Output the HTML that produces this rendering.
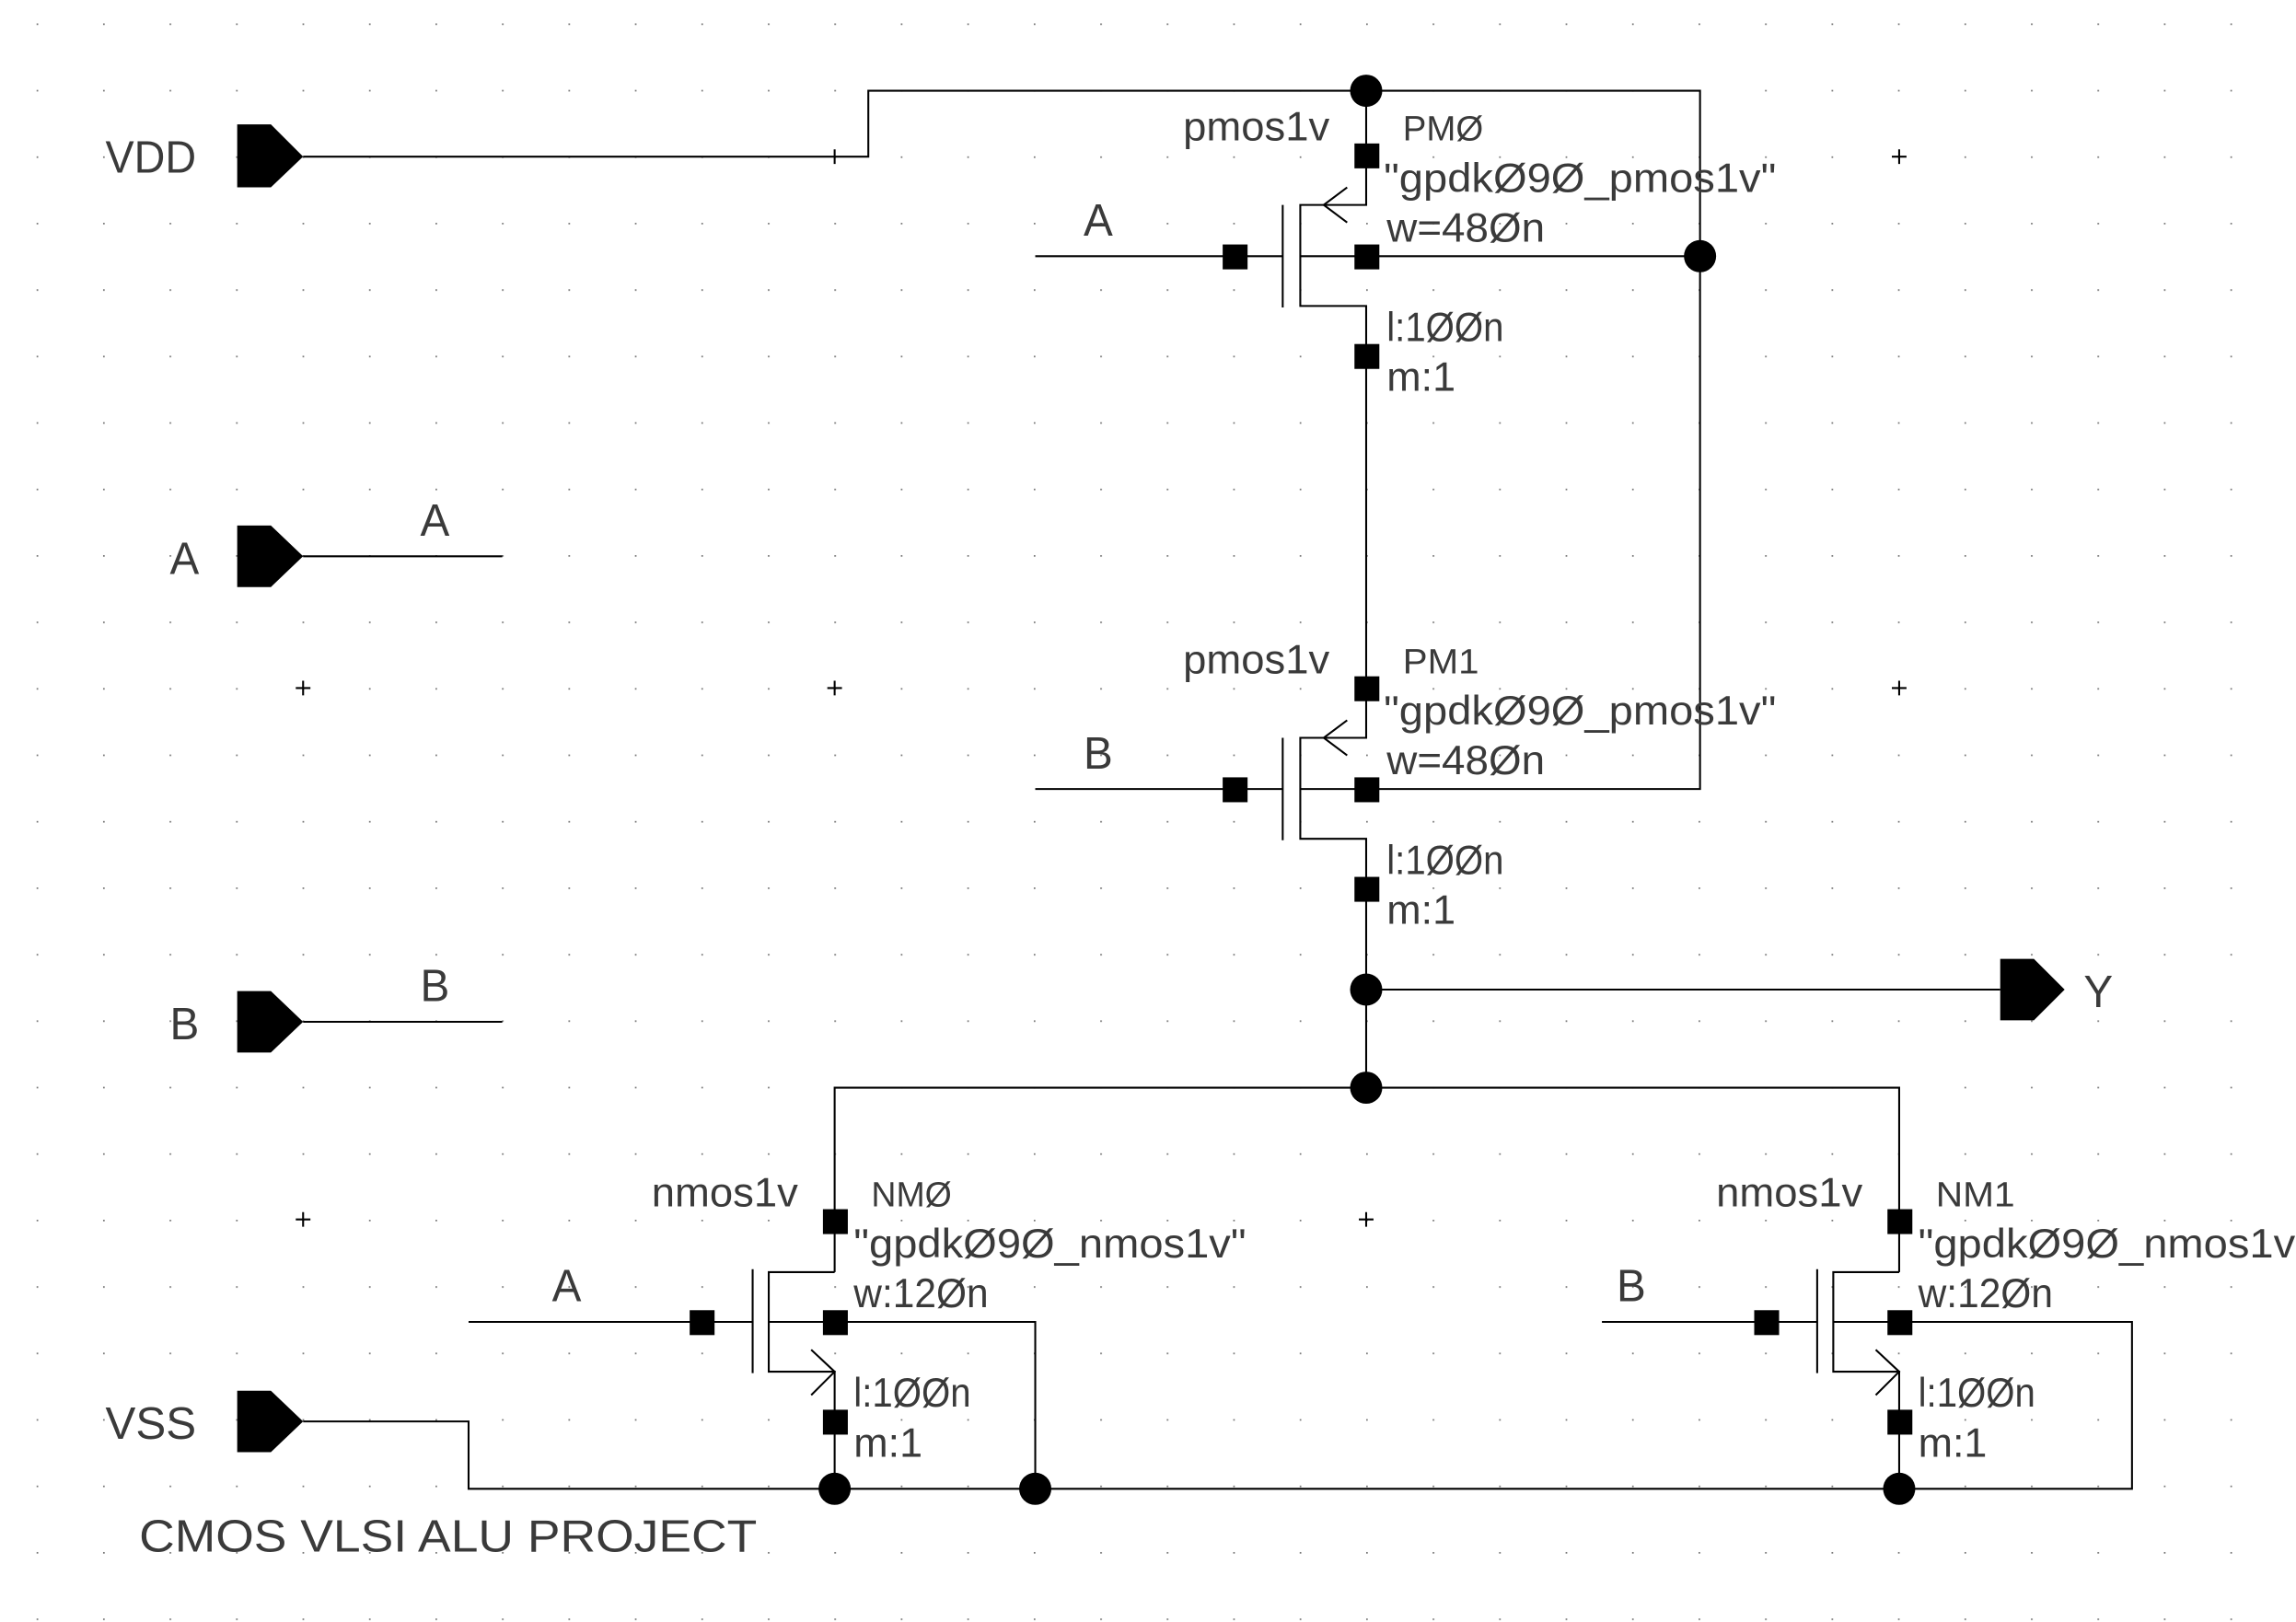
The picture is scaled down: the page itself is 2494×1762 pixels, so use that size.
<!DOCTYPE html>
<html><head><meta charset="utf-8"><style>
html,body{margin:0;padding:0;background:#fff;width:2494px;height:1762px;overflow:hidden}
svg{display:block}
text{font-family:"Liberation Sans",sans-serif;fill:#3a3a3a;font-weight:normal}
</style></head><body>
<svg width="2494" height="1762" viewBox="0 0 1568 1108" preserveAspectRatio="none" xmlns="http://www.w3.org/2000/svg">
<defs>
<pattern id="g" x="25" y="16" width="45.4" height="45.4" patternUnits="userSpaceOnUse">
<rect x="0" y="0" width="1.1" height="1.1" fill="#777"/>
</pattern>
</defs>
<rect x="0" y="0" width="1568" height="1108" fill="url(#g)"/>
<g stroke="#000" stroke-width="1.3" fill="none">
<path d="M202,470h10M207,465v10M565,470h10M570,465v10M1292,107h10M1297,102v10M1292,470h10M1297,465v10M202,833h10M207,828v10M928,833h10M933,828v10M570,102v10"/>
<polyline points="207,107 593,107 593,62 1161,62 1161,539 888,539"/>
<line x1="888" y1="175" x2="1161" y2="175"/>
<polyline points="933,62 933,140 888,140 888,209 933,209 933,504 888,504 888,573 933,573 933,743"/>
<line x1="876" y1="140" x2="876" y2="210"/>
<line x1="707" y1="175" x2="876" y2="175"/>
<polyline points="920,128 904,140 920,152"/>
<line x1="876" y1="504" x2="876" y2="574"/>
<line x1="707" y1="539" x2="876" y2="539"/>
<polyline points="920,492 904,504 920,516"/>
<line x1="933" y1="676" x2="1366" y2="676"/>
<polyline points="570,869 570,743 1297,743 1297,869"/>
<polyline points="570,869 525,869 525,937 570,937 570,1017"/>
<line x1="514" y1="867" x2="514" y2="938"/>
<line x1="320" y1="903" x2="514" y2="903"/>
<polyline points="525,903 707,903 707,1017"/>
<polyline points="554,922 570,937 554,953"/>
<polyline points="1297,869 1252,869 1252,937 1297,937 1297,1017"/>
<line x1="1241" y1="867" x2="1241" y2="938"/>
<line x1="1094" y1="903" x2="1241" y2="903"/>
<polyline points="1252,903 1456,903 1456,1017 1297,1017"/>
<polyline points="1281,922 1297,937 1281,953"/>
<polyline points="207,971 320,971 320,1017 1297,1017"/>
<line x1="207" y1="380" x2="343" y2="380"/>
<line x1="207" y1="698" x2="343" y2="698"/>
</g>
<g fill="#000">
<polygon points="162,85 185,85 207,107 185,128 162,128"/>
<polygon points="162,359 185,359 207,380 185,401 162,401"/>
<polygon points="162,677 185,677 207,698 185,719 162,719"/>
<polygon points="162,950 185,950 207,971 185,992 162,992"/>
<polygon points="1366,655 1389,655 1410,676 1389,697 1366,697"/>
<ellipse cx="933" cy="62" rx="11" ry="11"/>
<ellipse cx="1161" cy="175" rx="11" ry="11"/>
<ellipse cx="933" cy="676" rx="11" ry="11"/>
<ellipse cx="933" cy="743" rx="11" ry="11"/>
<ellipse cx="570" cy="1017" rx="11" ry="11"/>
<ellipse cx="707" cy="1017" rx="11" ry="11"/>
<ellipse cx="1297" cy="1017" rx="11" ry="11"/>
<rect x="925" y="98" width="17" height="17"/>
<rect x="925" y="167" width="17" height="17"/>
<rect x="835" y="167" width="17" height="17"/>
<rect x="925" y="235" width="17" height="17"/>
<rect x="925" y="462" width="17" height="17"/>
<rect x="925" y="531" width="17" height="17"/>
<rect x="835" y="531" width="17" height="17"/>
<rect x="925" y="599" width="17" height="17"/>
<rect x="562" y="826" width="17" height="17"/>
<rect x="562" y="895" width="17" height="17"/>
<rect x="471" y="895" width="17" height="17"/>
<rect x="562" y="963" width="17" height="17"/>
<rect x="1289" y="826" width="17" height="17"/>
<rect x="1289" y="895" width="17" height="17"/>
<rect x="1198" y="895" width="17" height="17"/>
<rect x="1289" y="963" width="17" height="17"/>
</g>
<g font-size="31">
<text x="72" y="118" textLength="62" lengthAdjust="spacingAndGlyphs">VDD</text>
<text x="116" y="392" textLength="20" lengthAdjust="spacingAndGlyphs">A</text>
<text x="116" y="710" textLength="20" lengthAdjust="spacingAndGlyphs">B</text>
<text x="72" y="983" textLength="62" lengthAdjust="spacingAndGlyphs">VSS</text>
<text x="1423" y="688" textLength="20" lengthAdjust="spacingAndGlyphs">Y</text>
<text x="287" y="366" textLength="20" lengthAdjust="spacingAndGlyphs">A</text>
<text x="287" y="684" textLength="20" lengthAdjust="spacingAndGlyphs">B</text>
<text x="740" y="161" textLength="20" lengthAdjust="spacingAndGlyphs">A</text>
<text x="740" y="525" textLength="20" lengthAdjust="spacingAndGlyphs">B</text>
<text x="377" y="889" textLength="20" lengthAdjust="spacingAndGlyphs">A</text>
<text x="1104" y="889" textLength="20" lengthAdjust="spacingAndGlyphs">B</text>
<text x="95" y="1060" textLength="422" lengthAdjust="spacingAndGlyphs">CMOS VLSI ALU PROJECT</text>
</g>
<g font-size="28">
<text x="808" y="96" textLength="100" lengthAdjust="spacingAndGlyphs">pmos1v</text>
<text x="958" y="96" textLength="55" lengthAdjust="spacingAndGlyphs" font-size="24">PMØ</text>
<text x="945" y="131" textLength="268" lengthAdjust="spacingAndGlyphs">"gpdkØ9Ø_pmos1v"</text>
<text x="947" y="165" textLength="108" lengthAdjust="spacingAndGlyphs">w=48Øn</text>
<text x="947" y="233" textLength="80" lengthAdjust="spacingAndGlyphs">l:1ØØn</text>
<text x="947" y="267" textLength="47" lengthAdjust="spacingAndGlyphs">m:1</text>

<text x="808" y="460" textLength="100" lengthAdjust="spacingAndGlyphs">pmos1v</text>
<text x="958" y="460" textLength="52" lengthAdjust="spacingAndGlyphs" font-size="24">PM1</text>
<text x="945" y="495" textLength="268" lengthAdjust="spacingAndGlyphs">"gpdkØ9Ø_pmos1v"</text>
<text x="947" y="529" textLength="108" lengthAdjust="spacingAndGlyphs">w=48Øn</text>
<text x="947" y="597" textLength="80" lengthAdjust="spacingAndGlyphs">l:1ØØn</text>
<text x="947" y="631" textLength="47" lengthAdjust="spacingAndGlyphs">m:1</text>

<text x="445" y="824" textLength="100" lengthAdjust="spacingAndGlyphs">nmos1v</text>
<text x="595" y="824" textLength="55" lengthAdjust="spacingAndGlyphs" font-size="24">NMØ</text>
<text x="583" y="859" textLength="268" lengthAdjust="spacingAndGlyphs">"gpdkØ9Ø_nmos1v"</text>
<text x="583" y="893" textLength="92" lengthAdjust="spacingAndGlyphs">w:12Øn</text>
<text x="583" y="961" textLength="80" lengthAdjust="spacingAndGlyphs">l:1ØØn</text>
<text x="583" y="995" textLength="47" lengthAdjust="spacingAndGlyphs">m:1</text>

<text x="1172" y="824" textLength="100" lengthAdjust="spacingAndGlyphs">nmos1v</text>
<text x="1322" y="824" textLength="54" lengthAdjust="spacingAndGlyphs" font-size="24">NM1</text>
<text x="1310" y="859" textLength="268" lengthAdjust="spacingAndGlyphs">"gpdkØ9Ø_nmos1v"</text>
<text x="1310" y="893" textLength="92" lengthAdjust="spacingAndGlyphs">w:12Øn</text>
<text x="1310" y="961" textLength="80" lengthAdjust="spacingAndGlyphs">l:1ØØn</text>
<text x="1310" y="995" textLength="47" lengthAdjust="spacingAndGlyphs">m:1</text>
</g>
</svg>
</body></html>
